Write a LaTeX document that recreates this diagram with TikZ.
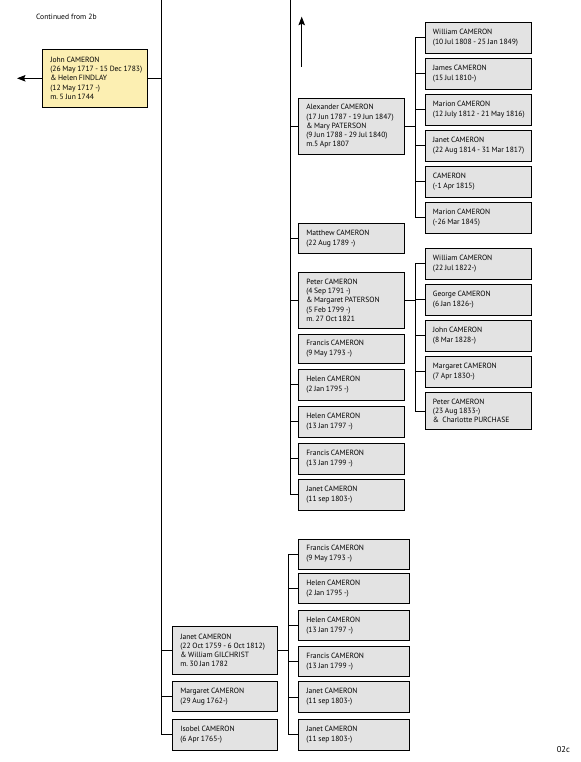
\documentclass[tikz,border=0pt]{standalone}
\usepackage{fontspec}
\setmainfont{PT Sans}
\usetikzlibrary{arrows.meta}
\definecolor{boxgray}{HTML}{E3E3E3}
\definecolor{boxyellow}{HTML}{FCEFB2}
\newlength\tightspace
\newcommand\nb[1]{\mbox{\frenchspacing\setlength\tightspace{0.22em}\spaceskip=\tightspace\relax #1}}
\begin{document}
\begin{tikzpicture}[x=1bp,y=-1bp,
  line width=0.9bp,
  famnode/.style={draw=black, line width=0.9bp, fill=boxgray, inner xsep=8bp, inner ysep=0pt,
    align=left, anchor=center, font=\fontsize{7.6}{10}\selectfont},
  ml/.style={font=\fontsize{7.6}{9.2}\selectfont},
  yel/.style={fill=boxyellow},
  colA/.style={famnode, minimum width=105.4bp, text width=89.4bp},
  colB/.style={famnode, minimum width=106.4bp, text width=90.4bp},
  colC/.style={famnode, minimum width=106.7bp, text width=90.7bp},
  colD/.style={famnode, minimum width=110.7bp, text width=94.7bp},
  lbl/.style={font=\fontsize{7.6}{9}\selectfont, inner sep=0pt},
  arr/.style={-{Stealth[length=8.5bp, width=6.5bp, inset=1.5bp]}},
]
\useasboundingbox (0,0) rectangle (581,762);

% labels
\node[lbl, anchor=west] (cont) at (35.7,16.7) {Continued from 2b};
\node[lbl, anchor=center, font=\fontsize{8.5}{10}\selectfont] (page) at (563.3,749.3) {02c};

% ancestor
\node[colA, yel, ml, minimum height=58bp] (john) at (95,78.3) {\nb{John CAMERON}\\\nb{(26 May 1717 - 15 Dec 1783)}\\\nb{\& Helen FINDLAY}\\\nb{(12 May 1717 -)}\\\nb{m. 5 Jun 1744}};

% column B (top)
\node[colB, ml, minimum height=56bp] (alex) at (351.5,126.3) {\nb{Alexander CAMERON}\\\nb{(17 Jun 1787 - 19 Jun 1847)}\\\nb{\& Mary PATERSON}\\\nb{(9 Jun 1788 - 29 Jul 1840)}\\\nb{m.5 Apr 1807}};
\node[colB, minimum height=30bp] (matthew) at (351.5,238.3) {\nb{Matthew CAMERON}\\\nb{(22 Aug 1789 -)}};
\node[colB, ml, minimum height=56bp] (peter) at (351.5,300.3) {\nb{Peter CAMERON}\\\nb{(4 Sep 1791 -)}\\\nb{\& Margaret PATERSON}\\\nb{(5 Feb 1799 -)}\\\nb{m. 27 Oct 1821}};
\node[colB, minimum height=29.5bp] (francisA) at (351.5,348.8) {\nb{Francis CAMERON}\\\nb{(9 May 1793 -)}};
\node[colB, minimum height=31bp] (helenA) at (351.5,384.8) {\nb{Helen CAMERON}\\\nb{(2 Jan 1795 -)}};
\node[colB, minimum height=31bp] (helenB) at (351.5,421.8) {\nb{Helen CAMERON}\\\nb{(13 Jan 1797 -)}};
\node[colB, minimum height=31bp] (francisB) at (351.5,458.8) {\nb{Francis CAMERON}\\\nb{(13 Jan 1799 -)}};
\node[colB, minimum height=31bp] (janetA) at (351.5,494.8) {\nb{Janet CAMERON}\\\nb{(11 sep 1803-)}};

% column C, children of Alexander
\node[colC, minimum height=31bp] (c1) at (478.3,37.8) {\nb{William CAMERON}\\\nb{(10 Jul 1808 - 25 Jan 1849)}};
\node[colC, minimum height=31bp] (c2) at (478.3,73.8) {\nb{James CAMERON}\\\nb{(15 Jul 1810-)}};
\node[colC, minimum height=31bp] (c3) at (478.3,109.8) {\nb{Marion CAMERON}\\\nb{(12 July 1812 - 21 May 1816)}};
\node[colC, minimum height=31bp] (c4) at (478.3,145.8) {\nb{Janet CAMERON}\\\nb{(22 Aug 1814 - 31 Mar 1817)}};
\node[colC, minimum height=31bp] (c5) at (478.3,181.8) {\nb{CAMERON}\\\nb{(-1 Apr 1815)}};
\node[colC, minimum height=31bp] (c6) at (478.3,217.8) {\nb{Marion CAMERON}\\\nb{(-26 Mar 1845)}};

% column C, children of Peter
\node[colC, minimum height=31bp] (d1) at (478.3,263.8) {\nb{William CAMERON}\\\nb{(22 Jul 1822-)}};
\node[colC, minimum height=31bp] (d2) at (478.3,299.8) {\nb{George CAMERON}\\\nb{(6 Jan 1826-)}};
\node[colC, minimum height=31bp] (d3) at (478.3,335.8) {\nb{John CAMERON}\\\nb{(8 Mar 1828-)}};
\node[colC, minimum height=31bp] (d4) at (478.3,371.8) {\nb{Margaret CAMERON}\\\nb{(7 Apr 1830-)}};
\node[colC, ml, minimum height=37.4bp] (d5) at (478.3,411) {\nb{Peter CAMERON}\\\nb{(23 Aug 1833-)}\\\nb{\& \ Charlotte PURCHASE}};

% bottom column A
\node[colA, ml, minimum height=47.7bp] (janetG) at (225,650.2) {\nb{Janet CAMERON}\\\nb{(22 Oct 1759 - 6 Oct 1812)}\\\nb{\& William GILCHRIST}\\\nb{m. 30 Jan 1782}};
\node[colA, minimum height=30.4bp] (margaret) at (225,696.5) {\nb{Margaret CAMERON}\\\nb{(29 Aug 1762-)}};
\node[colA, minimum height=31.7bp] (isobel) at (225,734.8) {\nb{Isobel CAMERON}\\\nb{(6 Apr 1765-)}};

% bottom column B, children of Janet
\node[colD, minimum height=30bp] (g1) at (353.7,554) {\nb{Francis CAMERON}\\\nb{(9 May 1793 -)}};
\node[colD, minimum height=30bp] (g2) at (353.7,588.3) {\nb{Helen CAMERON}\\\nb{(2 Jan 1795 -)}};
\node[colD, minimum height=30.7bp] (g3) at (353.7,625.3) {\nb{Helen CAMERON}\\\nb{(13 Jan 1797 -)}};
\node[colD, minimum height=30bp] (g4) at (353.7,661.7) {\nb{Francis CAMERON}\\\nb{(13 Jan 1799 -)}};
\node[colD, minimum height=30.6bp] (g5) at (353.7,697) {\nb{Janet CAMERON}\\\nb{(11 sep 1803-)}};
\node[colD, minimum height=31.7bp] (g6) at (353.7,734.8) {\nb{Janet CAMERON}\\\nb{(11 sep 1803-)}};

% coordinates of trunk lines
\coordinate (trunkA) at (161,0);
\coordinate (trunkB) at (290,0);
\coordinate (brC) at (415.3,0);
\coordinate (brG) at (288.3,0);
\coordinate (leftEnd) at (17,78.3);
\coordinate (upStart) at (301.7,66.7);
\coordinate (upEnd) at (301.7,16.7);

% arrows
\draw[arr] (john.west) -- (leftEnd);
\draw[arr] (upStart) -- (upEnd);

% trunk A
\draw (trunkA) -- (trunkA |- isobel.west);
\draw (john.east) -- (trunkA |- john.east);
\draw (trunkA |- janetG.west) -- (janetG.west);
\draw (trunkA |- margaret.west) -- (margaret.west);
\draw (trunkA |- isobel.west) -- (isobel.west);

% trunk B
\draw (trunkB) -- (trunkB |- janetA.west);
\foreach \n in {alex,matthew,peter,helenA,helenB,francisB,janetA}
  \draw (trunkB |- \n.west) -- (\n.west);

% Alexander's children
\draw (alex.east) -- (brC |- alex.east);
\draw (brC |- c1.west) -- (brC |- c6.west);
\foreach \n in {c1,c2,c3,c4,c5,c6}
  \draw (brC |- \n.west) -- (\n.west);

% Peter's children
\draw (peter.east) -- (brC |- peter.east);
\draw (brC |- d1.west) -- (brC |- d5.west);
\foreach \n in {d1,d2,d3,d4,d5}
  \draw (brC |- \n.west) -- (\n.west);

% Janet's children
\draw (janetG.east) -- (brG |- janetG.east);
\draw (brG |- g1.west) -- (brG |- g6.west);
\foreach \n in {g1,g2,g3,g4,g5,g6}
  \draw (brG |- \n.west) -- (\n.west);
\end{tikzpicture}
\end{document}
